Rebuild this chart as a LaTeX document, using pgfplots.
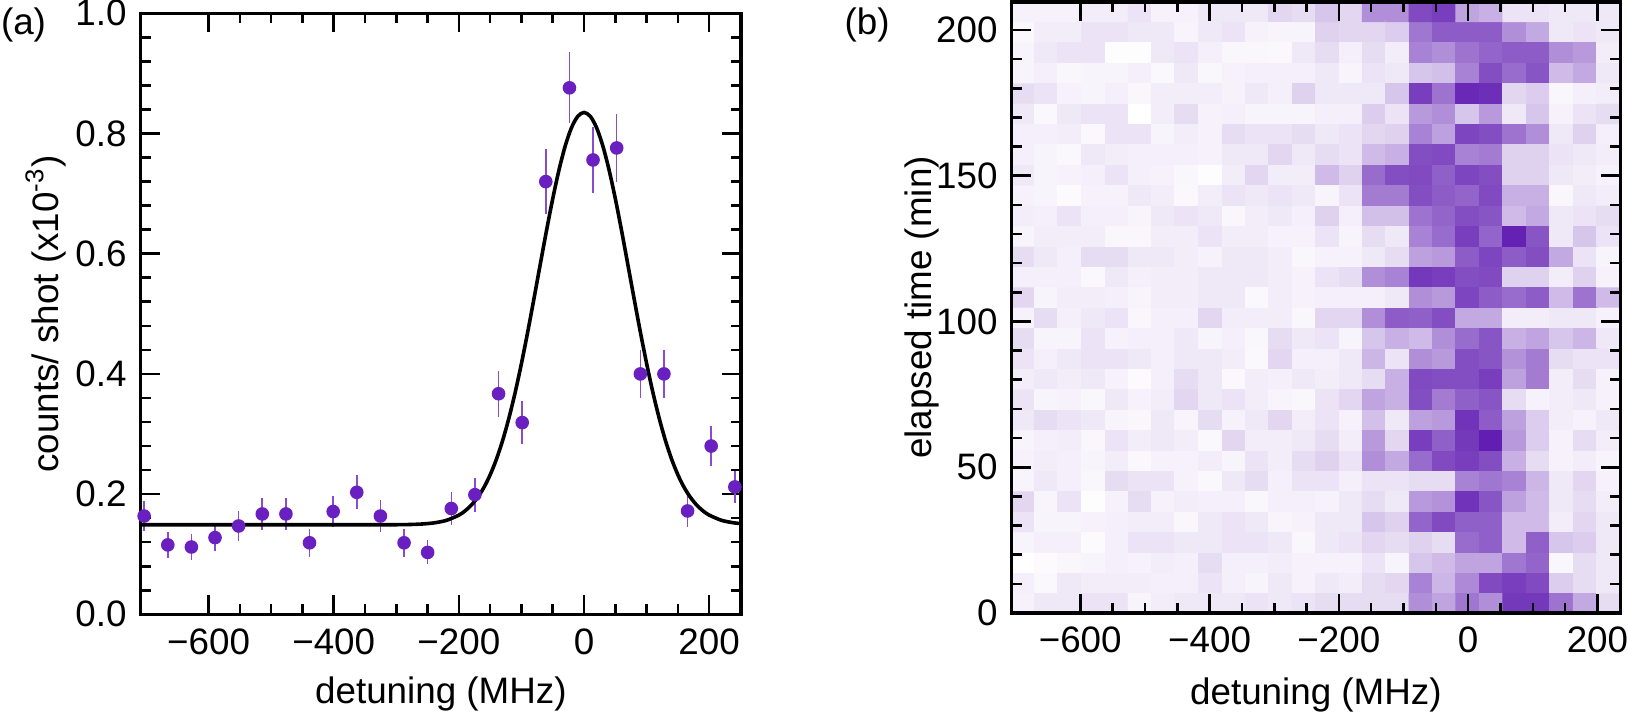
\documentclass[border=0pt]{standalone}
\usepackage{fontspec}
\setmainfont{Liberation Sans}
\usepackage{pgfplots}
\pgfplotsset{compat=1.18}

\definecolor{dotpurple}{RGB}{106,31,192}

\pgfplotsset{
  panel/.style={
    scale only axis,
    axis line style={line width=0.8pt},
    every tick/.style={line width=0.65pt, black},
    major tick length=4.75pt,
    minor tick length=2.5pt,
    tick align=inside,
    xtick pos=both,
    ytick pos=both,
    xticklabel pos=lower,
    yticklabel pos=left,
  },
}

\begin{document}
\begin{tikzpicture}[font=\fontsize{9.2}{11}\selectfont]
\path[use as bounding box] (-35.175pt,-26.675pt) rectangle (371.825pt,153.575pt);

% (a) spectrum with fit
\begin{axis}[panel,
    at={(0pt,0pt)}, anchor=south west,
    width=150.1pt, height=150.25pt,
    xmin=-708.5, xmax=251, ymin=0, ymax=1,
    xtick={-600,-400,-200,0,200},
    xticklabels={−600,−400,−200,0,200},
    minor x tick num=3,
    ytick={0,0.2,0.4,0.6,0.8,1.0},
    yticklabels={0.0,0.2,0.4,0.6,0.8,1.0},
    minor y tick num=4,
    xlabel={detuning (MHz)},
    ylabel={counts/ shot (x10\textsuperscript{-3})},
    xlabel style={at={(axis description cs:0.5,-0.149)}, anchor=base},
    ylabel style={at={(axis description cs:-0.158,0.5)}, anchor=center},
  ]
  \addplot[only marks, mark=*, mark size=1.5pt, color=dotpurple,
    error bars/.cd, y dir=both, y explicit, error mark=none,
    error bar style={line width=0.4pt, dotpurple!80}]
    coordinates {
      (-703.0,0.1635) +- (0,0.025)
      (-665.2,0.1155) +- (0,0.021)
      (-627.5,0.1120) +- (0,0.021)
      (-589.7,0.1276) +- (0,0.023)
      (-552.0,0.1470) +- (0,0.025)
      (-514.2,0.1670) +- (0,0.026)
      (-476.4,0.1670) +- (0,0.026)
      (-438.7,0.1190) +- (0,0.023)
      (-400.9,0.1710) +- (0,0.026)
      (-363.2,0.2030) +- (0,0.028)
      (-325.4,0.1635) +- (0,0.026)
      (-287.6,0.1190) +- (0,0.023)
      (-249.9,0.1030) +- (0,0.020)
      (-212.1,0.1760) +- (0,0.027)
      (-174.4,0.1990) +- (0,0.028)
      (-136.6,0.3670) +- (0,0.038)
      (-98.8,0.3190) +- (0,0.036)
      (-61.1,0.7200) +- (0,0.0535)
      (-23.3,0.8760) +- (0,0.059)
      (14.4,0.7560) +- (0,0.0546)
      (52.2,0.7760) +- (0,0.056)
      (90.0,0.4000) +- (0,0.040)
      (127.7,0.4000) +- (0,0.040)
      (165.5,0.1720) +- (0,0.026)
      (203.2,0.2800) +- (0,0.033)
      (241.0,0.2120) +- (0,0.027)
    };
  \addplot[black, line width=0.9pt, smooth] coordinates {
      (-708.5,0.1490) (-400,0.1490) (-300,0.1491) (-280,0.1494) (-260,0.1502)
      (-240,0.1521) (-220,0.1563) (-200,0.1651) (-190,0.1722) (-180,0.1818)
      (-170,0.1946) (-160,0.2111) (-150,0.2321) (-140,0.2581) (-130,0.2895)
      (-120,0.3267) (-110,0.3694) (-100,0.4174) (-90,0.4698) (-80,0.5253)
      (-70,0.5821) (-60,0.6383) (-50,0.6916) (-40,0.7394) (-30,0.7795)
      (-20,0.8098) (-10,0.8286) (0,0.8350) (10,0.8286) (20,0.8098)
      (30,0.7795) (40,0.7394) (50,0.6916) (60,0.6383) (70,0.5821)
      (80,0.5253) (90,0.4698) (100,0.4174) (110,0.3694) (120,0.3267)
      (130,0.2895) (140,0.2581) (150,0.2321) (160,0.2111) (170,0.1946)
      (180,0.1818) (190,0.1722) (200,0.1651) (220,0.1563) (240,0.1521)
      (251,0.1510)
    };
\end{axis}

% (b) time-resolved map
\begin{axis}[panel,
    at={(217.75pt,0.325pt)}, anchor=south west,
    width=152.1pt, height=152.75pt,
    axis on top,
    enlargelimits=false,
    xmin=-706, xmax=235, ymin=0, ymax=209.6,
    xtick={-600,-400,-200,0,200},
    xticklabels={−600,−400,−200,0,200},
    minor x tick num=3,
    ytick={0,50,100,150,200},
    yticklabels={0,50,100,150,200},
    minor y tick num=4,
    xlabel={detuning (MHz)},
    ylabel={elapsed time (min)},
    xlabel style={at={(axis description cs:0.5,-0.149)}, anchor=base},
    ylabel style={at={(axis description cs:-0.147,0.5)}, anchor=center},
    colormap={purp}{rgb255=(255,255,255) rgb255=(98,30,178)},
    point meta min=0, point meta max=1,
  ]
  \addplot[matrix plot*, mesh/cols=26, point meta=explicit] coordinates {
(-688,3.5)[0.06] (-652,3.5)[0.10] (-616,3.5)[0.10] (-579,3.5)[0.12] (-543,3.5)[0.12] (-507,3.5)[0.05] (-471,3.5)[0.08] (-435,3.5)[0.10] (-398,3.5)[0.10] (-362,3.5)[0.10] (-326,3.5)[0.12] (-290,3.5)[0.10] (-254,3.5)[0.12] (-217,3.5)[0.15] (-181,3.5)[0.15] (-145,3.5)[0.15] (-109,3.5)[0.15] (-73,3.5)[0.50] (-37,3.5)[0.40] (0,3.5)[0.60] (36,3.5)[0.50] (72,3.5)[0.88] (108,3.5)[0.88] (145,3.5)[0.62] (181,3.5)[0.38] (217,3.5)[0.15]
(-688,10.5)[0.07] (-652,10.5)[0.03] (-616,10.5)[0.10] (-579,10.5)[0.08] (-543,10.5)[0.08] (-507,10.5)[0.08] (-471,10.5)[0.07] (-435,10.5)[0.07] (-398,10.5)[0.12] (-362,10.5)[0.07] (-326,10.5)[0.05] (-290,10.5)[0.10] (-254,10.5)[0.06] (-217,10.5)[0.10] (-181,10.5)[0.08] (-145,10.5)[0.15] (-109,10.5)[0.18] (-73,10.5)[0.55] (-37,10.5)[0.32] (0,10.5)[0.52] (36,10.5)[0.80] (72,10.5)[0.85] (108,10.5)[0.80] (145,10.5)[0.22] (181,10.5)[0.15] (217,10.5)[0.10]
(-688,17.5)[0.00] (-652,17.5)[0.02] (-616,17.5)[0.04] (-579,17.5)[0.05] (-543,17.5)[0.07] (-507,17.5)[0.06] (-471,17.5)[0.08] (-435,17.5)[0.07] (-398,17.5)[0.15] (-362,17.5)[0.07] (-326,17.5)[0.07] (-290,17.5)[0.08] (-254,17.5)[0.06] (-217,17.5)[0.06] (-181,17.5)[0.06] (-145,17.5)[0.12] (-109,17.5)[0.05] (-73,17.5)[0.25] (-37,17.5)[0.30] (0,17.5)[0.40] (36,17.5)[0.40] (72,17.5)[0.60] (108,17.5)[0.68] (145,17.5)[0.04] (181,17.5)[0.15] (217,17.5)[0.10]
(-688,24.5)[0.05] (-652,24.5)[0.07] (-616,24.5)[0.07] (-579,24.5)[0.02] (-543,24.5)[0.07] (-507,24.5)[0.12] (-471,24.5)[0.12] (-435,24.5)[0.10] (-398,24.5)[0.10] (-362,24.5)[0.12] (-326,24.5)[0.12] (-290,24.5)[0.10] (-254,24.5)[0.04] (-217,24.5)[0.10] (-181,24.5)[0.12] (-145,24.5)[0.18] (-109,24.5)[0.15] (-73,24.5)[0.20] (-37,24.5)[0.15] (0,24.5)[0.65] (36,24.5)[0.70] (72,24.5)[0.30] (108,24.5)[0.70] (145,24.5)[0.25] (181,24.5)[0.22] (217,24.5)[0.10]
(-688,31.5)[0.12] (-652,31.5)[0.05] (-616,31.5)[0.05] (-579,31.5)[0.06] (-543,31.5)[0.07] (-507,31.5)[0.08] (-471,31.5)[0.08] (-435,31.5)[0.04] (-398,31.5)[0.10] (-362,31.5)[0.12] (-326,31.5)[0.10] (-290,31.5)[0.05] (-254,31.5)[0.06] (-217,31.5)[0.10] (-181,31.5)[0.10] (-145,31.5)[0.25] (-109,31.5)[0.20] (-73,31.5)[0.68] (-37,31.5)[0.80] (0,31.5)[0.70] (36,31.5)[0.70] (72,31.5)[0.30] (108,31.5)[0.30] (145,31.5)[0.08] (181,31.5)[0.18] (217,31.5)[0.10]
(-688,38.5)[0.18] (-652,38.5)[0.05] (-616,38.5)[0.12] (-579,38.5)[0.01] (-543,38.5)[0.06] (-507,38.5)[0.15] (-471,38.5)[0.06] (-435,38.5)[0.08] (-398,38.5)[0.07] (-362,38.5)[0.07] (-326,38.5)[0.04] (-290,38.5)[0.07] (-254,38.5)[0.07] (-217,38.5)[0.06] (-181,38.5)[0.10] (-145,38.5)[0.15] (-109,38.5)[0.10] (-73,38.5)[0.45] (-37,38.5)[0.48] (0,38.5)[0.90] (36,38.5)[0.75] (72,38.5)[0.42] (108,38.5)[0.30] (145,38.5)[0.10] (181,38.5)[0.15] (217,38.5)[0.08]
(-688,45.5)[0.05] (-652,45.5)[0.10] (-616,45.5)[0.07] (-579,45.5)[0.04] (-543,45.5)[0.15] (-507,45.5)[0.12] (-471,45.5)[0.12] (-435,45.5)[0.06] (-398,45.5)[0.03] (-362,45.5)[0.10] (-326,45.5)[0.15] (-290,45.5)[0.07] (-254,45.5)[0.12] (-217,45.5)[0.12] (-181,45.5)[0.07] (-145,45.5)[0.12] (-109,45.5)[0.12] (-73,45.5)[0.15] (-37,45.5)[0.15] (0,45.5)[0.55] (36,45.5)[0.60] (72,45.5)[0.55] (108,45.5)[0.32] (145,45.5)[0.10] (181,45.5)[0.18] (217,45.5)[0.06]
(-688,52.5)[0.06] (-652,52.5)[0.08] (-616,52.5)[0.07] (-579,52.5)[0.05] (-543,52.5)[0.08] (-507,52.5)[0.03] (-471,52.5)[0.06] (-435,52.5)[0.06] (-398,52.5)[0.08] (-362,52.5)[0.05] (-326,52.5)[0.12] (-290,52.5)[0.08] (-254,52.5)[0.15] (-217,52.5)[0.20] (-181,52.5)[0.12] (-145,52.5)[0.50] (-109,52.5)[0.38] (-73,52.5)[0.65] (-37,52.5)[0.80] (0,52.5)[0.85] (36,52.5)[0.78] (72,52.5)[0.35] (108,52.5)[0.15] (145,52.5)[0.06] (181,52.5)[0.08] (217,52.5)[0.05]
(-688,59.5)[0.05] (-652,59.5)[0.07] (-616,59.5)[0.08] (-579,59.5)[0.04] (-543,59.5)[0.12] (-507,59.5)[0.08] (-471,59.5)[0.10] (-435,59.5)[0.08] (-398,59.5)[0.03] (-362,59.5)[0.18] (-326,59.5)[0.08] (-290,59.5)[0.08] (-254,59.5)[0.10] (-217,59.5)[0.15] (-181,59.5)[0.08] (-145,59.5)[0.45] (-109,59.5)[0.18] (-73,59.5)[0.85] (-37,59.5)[0.70] (0,59.5)[0.88] (36,59.5)[1.00] (72,59.5)[0.45] (108,59.5)[0.22] (145,59.5)[0.06] (181,59.5)[0.15] (217,59.5)[0.08]
(-688,66.5)[0.10] (-652,66.5)[0.15] (-616,66.5)[0.12] (-579,66.5)[0.10] (-543,66.5)[0.05] (-507,66.5)[0.04] (-471,66.5)[0.10] (-435,66.5)[0.05] (-398,66.5)[0.15] (-362,66.5)[0.06] (-326,66.5)[0.10] (-290,66.5)[0.18] (-254,66.5)[0.08] (-217,66.5)[0.12] (-181,66.5)[0.06] (-145,66.5)[0.28] (-109,66.5)[0.10] (-73,66.5)[0.42] (-37,66.5)[0.45] (0,66.5)[0.90] (36,66.5)[0.72] (72,66.5)[0.42] (108,66.5)[0.22] (145,66.5)[0.08] (181,66.5)[0.06] (217,66.5)[0.10]
(-688,73.5)[0.12] (-652,73.5)[0.05] (-616,73.5)[0.06] (-579,73.5)[0.04] (-543,73.5)[0.10] (-507,73.5)[0.06] (-471,73.5)[0.08] (-435,73.5)[0.18] (-398,73.5)[0.10] (-362,73.5)[0.12] (-326,73.5)[0.08] (-290,73.5)[0.05] (-254,73.5)[0.04] (-217,73.5)[0.12] (-181,73.5)[0.18] (-145,73.5)[0.40] (-109,73.5)[0.35] (-73,73.5)[0.78] (-37,73.5)[0.58] (0,73.5)[0.70] (36,73.5)[0.75] (72,73.5)[0.15] (108,73.5)[0.06] (145,73.5)[0.08] (181,73.5)[0.10] (217,73.5)[0.06]
(-688,80.5)[0.08] (-652,80.5)[0.10] (-616,80.5)[0.08] (-579,80.5)[0.10] (-543,80.5)[0.06] (-507,80.5)[0.02] (-471,80.5)[0.07] (-435,80.5)[0.15] (-398,80.5)[0.10] (-362,80.5)[0.03] (-326,80.5)[0.08] (-290,80.5)[0.07] (-254,80.5)[0.10] (-217,80.5)[0.08] (-181,80.5)[0.10] (-145,80.5)[0.15] (-109,80.5)[0.35] (-73,80.5)[0.80] (-37,80.5)[0.78] (0,80.5)[0.78] (36,80.5)[0.85] (72,80.5)[0.42] (108,80.5)[0.58] (145,80.5)[0.08] (181,80.5)[0.15] (217,80.5)[0.06]
(-688,87.5)[0.12] (-652,87.5)[0.07] (-616,87.5)[0.10] (-579,87.5)[0.12] (-543,87.5)[0.12] (-507,87.5)[0.10] (-471,87.5)[0.07] (-435,87.5)[0.10] (-398,87.5)[0.10] (-362,87.5)[0.08] (-326,87.5)[0.03] (-290,87.5)[0.18] (-254,87.5)[0.07] (-217,87.5)[0.07] (-181,87.5)[0.10] (-145,87.5)[0.32] (-109,87.5)[0.12] (-73,87.5)[0.50] (-37,87.5)[0.45] (0,87.5)[0.78] (36,87.5)[0.75] (72,87.5)[0.48] (108,87.5)[0.58] (145,87.5)[0.15] (181,87.5)[0.12] (217,87.5)[0.12]
(-688,94.5)[0.15] (-652,94.5)[0.05] (-616,94.5)[0.05] (-579,94.5)[0.12] (-543,94.5)[0.06] (-507,94.5)[0.07] (-471,94.5)[0.07] (-435,94.5)[0.10] (-398,94.5)[0.05] (-362,94.5)[0.07] (-326,94.5)[0.04] (-290,94.5)[0.15] (-254,94.5)[0.10] (-217,94.5)[0.12] (-181,94.5)[0.05] (-145,94.5)[0.25] (-109,94.5)[0.35] (-73,94.5)[0.30] (-37,94.5)[0.50] (0,94.5)[0.65] (36,94.5)[0.75] (72,94.5)[0.35] (108,94.5)[0.40] (145,94.5)[0.25] (181,94.5)[0.32] (217,94.5)[0.10]
(-688,101.5)[0.06] (-652,101.5)[0.15] (-616,101.5)[0.07] (-579,101.5)[0.10] (-543,101.5)[0.12] (-507,101.5)[0.04] (-471,101.5)[0.07] (-435,101.5)[0.07] (-398,101.5)[0.18] (-362,101.5)[0.08] (-326,101.5)[0.08] (-290,101.5)[0.08] (-254,101.5)[0.04] (-217,101.5)[0.18] (-181,101.5)[0.18] (-145,101.5)[0.50] (-109,101.5)[0.72] (-73,101.5)[0.70] (-37,101.5)[0.78] (0,101.5)[0.38] (36,101.5)[0.38] (72,101.5)[0.08] (108,101.5)[0.08] (145,101.5)[0.10] (181,101.5)[0.10] (217,101.5)[0.06]
(-688,108.5)[0.18] (-652,108.5)[0.05] (-616,108.5)[0.08] (-579,108.5)[0.08] (-543,108.5)[0.07] (-507,108.5)[0.05] (-471,108.5)[0.08] (-435,108.5)[0.08] (-398,108.5)[0.10] (-362,108.5)[0.10] (-326,108.5)[0.03] (-290,108.5)[0.08] (-254,108.5)[0.06] (-217,108.5)[0.07] (-181,108.5)[0.07] (-145,108.5)[0.07] (-109,108.5)[0.10] (-73,108.5)[0.50] (-37,108.5)[0.45] (0,108.5)[0.82] (36,108.5)[0.72] (72,108.5)[0.65] (108,108.5)[0.72] (145,108.5)[0.30] (181,108.5)[0.62] (217,108.5)[0.30]
(-688,115.5)[0.07] (-652,115.5)[0.07] (-616,115.5)[0.07] (-579,115.5)[0.03] (-543,115.5)[0.10] (-507,115.5)[0.07] (-471,115.5)[0.08] (-435,115.5)[0.08] (-398,115.5)[0.10] (-362,115.5)[0.10] (-326,115.5)[0.10] (-290,115.5)[0.08] (-254,115.5)[0.06] (-217,115.5)[0.12] (-181,115.5)[0.15] (-145,115.5)[0.50] (-109,115.5)[0.55] (-73,115.5)[0.88] (-37,115.5)[0.85] (0,115.5)[0.78] (36,115.5)[0.80] (72,115.5)[0.20] (108,115.5)[0.20] (145,115.5)[0.08] (181,115.5)[0.20] (217,115.5)[0.06]
(-688,122.5)[0.15] (-652,122.5)[0.10] (-616,122.5)[0.07] (-579,122.5)[0.15] (-543,122.5)[0.15] (-507,122.5)[0.10] (-471,122.5)[0.10] (-435,122.5)[0.08] (-398,122.5)[0.06] (-362,122.5)[0.10] (-326,122.5)[0.10] (-290,122.5)[0.08] (-254,122.5)[0.04] (-217,122.5)[0.06] (-181,122.5)[0.06] (-145,122.5)[0.10] (-109,122.5)[0.15] (-73,122.5)[0.42] (-37,122.5)[0.45] (0,122.5)[0.72] (36,122.5)[0.82] (72,122.5)[0.72] (108,122.5)[0.78] (145,122.5)[0.38] (181,122.5)[0.12] (217,122.5)[0.05]
(-688,129.5)[0.05] (-652,129.5)[0.08] (-616,129.5)[0.08] (-579,129.5)[0.08] (-543,129.5)[0.04] (-507,129.5)[0.04] (-471,129.5)[0.08] (-435,129.5)[0.08] (-398,129.5)[0.12] (-362,129.5)[0.08] (-326,129.5)[0.08] (-290,129.5)[0.06] (-254,129.5)[0.06] (-217,129.5)[0.12] (-181,129.5)[0.05] (-145,129.5)[0.15] (-109,129.5)[0.10] (-73,129.5)[0.55] (-37,129.5)[0.65] (0,129.5)[0.85] (36,129.5)[0.68] (72,129.5)[0.98] (108,129.5)[0.75] (145,129.5)[0.10] (181,129.5)[0.25] (217,129.5)[0.12]
(-688,136.5)[0.08] (-652,136.5)[0.07] (-616,136.5)[0.12] (-579,136.5)[0.07] (-543,136.5)[0.07] (-507,136.5)[0.05] (-471,136.5)[0.10] (-435,136.5)[0.12] (-398,136.5)[0.10] (-362,136.5)[0.04] (-326,136.5)[0.08] (-290,136.5)[0.10] (-254,136.5)[0.07] (-217,136.5)[0.20] (-181,136.5)[0.07] (-145,136.5)[0.28] (-109,136.5)[0.28] (-73,136.5)[0.62] (-37,136.5)[0.68] (0,136.5)[0.78] (36,136.5)[0.75] (72,136.5)[0.30] (108,136.5)[0.38] (145,136.5)[0.10] (181,136.5)[0.12] (217,136.5)[0.15]
(-688,143.5)[0.06] (-652,143.5)[0.05] (-616,143.5)[0.02] (-579,143.5)[0.06] (-543,143.5)[0.06] (-507,143.5)[0.10] (-471,143.5)[0.08] (-435,143.5)[0.03] (-398,143.5)[0.08] (-362,143.5)[0.12] (-326,143.5)[0.10] (-290,143.5)[0.12] (-254,143.5)[0.10] (-217,143.5)[0.05] (-181,143.5)[0.12] (-145,143.5)[0.58] (-109,143.5)[0.58] (-73,143.5)[0.78] (-37,143.5)[0.72] (0,143.5)[0.68] (36,143.5)[0.80] (72,143.5)[0.35] (108,143.5)[0.35] (145,143.5)[0.04] (181,143.5)[0.10] (217,143.5)[0.08]
(-688,150.5)[0.10] (-652,150.5)[0.05] (-616,150.5)[0.06] (-579,150.5)[0.07] (-543,150.5)[0.12] (-507,150.5)[0.07] (-471,150.5)[0.06] (-435,150.5)[0.04] (-398,150.5)[0.01] (-362,150.5)[0.08] (-326,150.5)[0.18] (-290,150.5)[0.08] (-254,150.5)[0.08] (-217,150.5)[0.30] (-181,150.5)[0.20] (-145,150.5)[0.65] (-109,150.5)[0.78] (-73,150.5)[0.80] (-37,150.5)[0.70] (0,150.5)[0.82] (36,150.5)[0.78] (72,150.5)[0.20] (108,150.5)[0.20] (145,150.5)[0.10] (181,150.5)[0.08] (217,150.5)[0.06]
(-688,157.5)[0.07] (-652,157.5)[0.05] (-616,157.5)[0.03] (-579,157.5)[0.10] (-543,157.5)[0.08] (-507,157.5)[0.07] (-471,157.5)[0.07] (-435,157.5)[0.07] (-398,157.5)[0.06] (-362,157.5)[0.10] (-326,157.5)[0.10] (-290,157.5)[0.18] (-254,157.5)[0.10] (-217,157.5)[0.15] (-181,157.5)[0.12] (-145,157.5)[0.30] (-109,157.5)[0.35] (-73,157.5)[0.78] (-37,157.5)[0.80] (0,157.5)[0.55] (36,157.5)[0.58] (72,157.5)[0.20] (108,157.5)[0.20] (145,157.5)[0.12] (181,157.5)[0.10] (217,157.5)[0.08]
(-688,164.5)[0.07] (-652,164.5)[0.07] (-616,164.5)[0.08] (-579,164.5)[0.03] (-543,164.5)[0.12] (-507,164.5)[0.12] (-471,164.5)[0.05] (-435,164.5)[0.08] (-398,164.5)[0.06] (-362,164.5)[0.15] (-326,164.5)[0.12] (-290,164.5)[0.12] (-254,164.5)[0.15] (-217,164.5)[0.10] (-181,164.5)[0.12] (-145,164.5)[0.18] (-109,164.5)[0.20] (-73,164.5)[0.55] (-37,164.5)[0.42] (0,164.5)[0.82] (36,164.5)[0.78] (72,164.5)[0.62] (108,164.5)[0.50] (145,164.5)[0.10] (181,164.5)[0.20] (217,164.5)[0.07]
(-688,171.5)[0.10] (-652,171.5)[0.03] (-616,171.5)[0.10] (-579,171.5)[0.12] (-543,171.5)[0.12] (-507,171.5)[0.00] (-471,171.5)[0.08] (-435,171.5)[0.15] (-398,171.5)[0.06] (-362,171.5)[0.07] (-326,171.5)[0.05] (-290,171.5)[0.05] (-254,171.5)[0.05] (-217,171.5)[0.07] (-181,171.5)[0.07] (-145,171.5)[0.22] (-109,171.5)[0.12] (-73,171.5)[0.45] (-37,171.5)[0.50] (0,171.5)[0.25] (36,171.5)[0.45] (72,171.5)[0.10] (108,171.5)[0.25] (145,171.5)[0.06] (181,171.5)[0.12] (217,171.5)[0.15]
(-688,178.5)[0.15] (-652,178.5)[0.12] (-616,178.5)[0.06] (-579,178.5)[0.05] (-543,178.5)[0.07] (-507,178.5)[0.04] (-471,178.5)[0.08] (-435,178.5)[0.08] (-398,178.5)[0.08] (-362,178.5)[0.06] (-326,178.5)[0.10] (-290,178.5)[0.07] (-254,178.5)[0.20] (-217,178.5)[0.10] (-181,178.5)[0.10] (-145,178.5)[0.10] (-109,178.5)[0.25] (-73,178.5)[0.85] (-37,178.5)[0.62] (0,178.5)[0.95] (36,178.5)[0.92] (72,178.5)[0.18] (108,178.5)[0.22] (145,178.5)[0.04] (181,178.5)[0.07] (217,178.5)[0.08]
(-688,185.5)[0.05] (-652,185.5)[0.07] (-616,185.5)[0.04] (-579,185.5)[0.05] (-543,185.5)[0.05] (-507,185.5)[0.07] (-471,185.5)[0.03] (-435,185.5)[0.10] (-398,185.5)[0.04] (-362,185.5)[0.06] (-326,185.5)[0.07] (-290,185.5)[0.07] (-254,185.5)[0.07] (-217,185.5)[0.10] (-181,185.5)[0.05] (-145,185.5)[0.12] (-109,185.5)[0.10] (-73,185.5)[0.25] (-37,185.5)[0.28] (0,185.5)[0.55] (36,185.5)[0.78] (72,185.5)[0.65] (108,185.5)[0.75] (145,185.5)[0.30] (181,185.5)[0.38] (217,185.5)[0.10]
(-688,192.5)[0.05] (-652,192.5)[0.10] (-616,192.5)[0.12] (-579,192.5)[0.12] (-543,192.5)[0.01] (-507,192.5)[0.01] (-471,192.5)[0.10] (-435,192.5)[0.12] (-398,192.5)[0.07] (-362,192.5)[0.04] (-326,192.5)[0.04] (-290,192.5)[0.03] (-254,192.5)[0.10] (-217,192.5)[0.15] (-181,192.5)[0.07] (-145,192.5)[0.15] (-109,192.5)[0.08] (-73,192.5)[0.55] (-37,192.5)[0.50] (0,192.5)[0.62] (36,192.5)[0.68] (72,192.5)[0.72] (108,192.5)[0.72] (145,192.5)[0.50] (181,192.5)[0.45] (217,192.5)[0.08]
(-688,199.5)[0.03] (-652,199.5)[0.08] (-616,199.5)[0.08] (-579,199.5)[0.12] (-543,199.5)[0.12] (-507,199.5)[0.10] (-471,199.5)[0.10] (-435,199.5)[0.05] (-398,199.5)[0.10] (-362,199.5)[0.12] (-326,199.5)[0.06] (-290,199.5)[0.05] (-254,199.5)[0.05] (-217,199.5)[0.20] (-181,199.5)[0.18] (-145,199.5)[0.18] (-109,199.5)[0.22] (-73,199.5)[0.60] (-37,199.5)[0.72] (0,199.5)[0.72] (36,199.5)[0.72] (72,199.5)[0.50] (108,199.5)[0.38] (145,199.5)[0.10] (181,199.5)[0.12] (217,199.5)[0.10]
(-688,206.5)[0.06] (-652,206.5)[0.06] (-616,206.5)[0.06] (-579,206.5)[0.08] (-543,206.5)[0.08] (-507,206.5)[0.12] (-471,206.5)[0.06] (-435,206.5)[0.06] (-398,206.5)[0.10] (-362,206.5)[0.10] (-326,206.5)[0.10] (-290,206.5)[0.18] (-254,206.5)[0.15] (-217,206.5)[0.25] (-181,206.5)[0.18] (-145,206.5)[0.50] (-109,206.5)[0.50] (-73,206.5)[0.80] (-37,206.5)[0.85] (0,206.5)[0.40] (36,206.5)[0.35] (72,206.5)[0.12] (108,206.5)[0.12] (145,206.5)[0.10] (181,206.5)[0.10] (217,206.5)[0.10]
  };
\end{axis}

\node[anchor=center] at (-29.3pt,147.3pt) {(a)};
\node[anchor=center] at (181.6pt,147.3pt) {(b)};
\end{tikzpicture}
\end{document}
